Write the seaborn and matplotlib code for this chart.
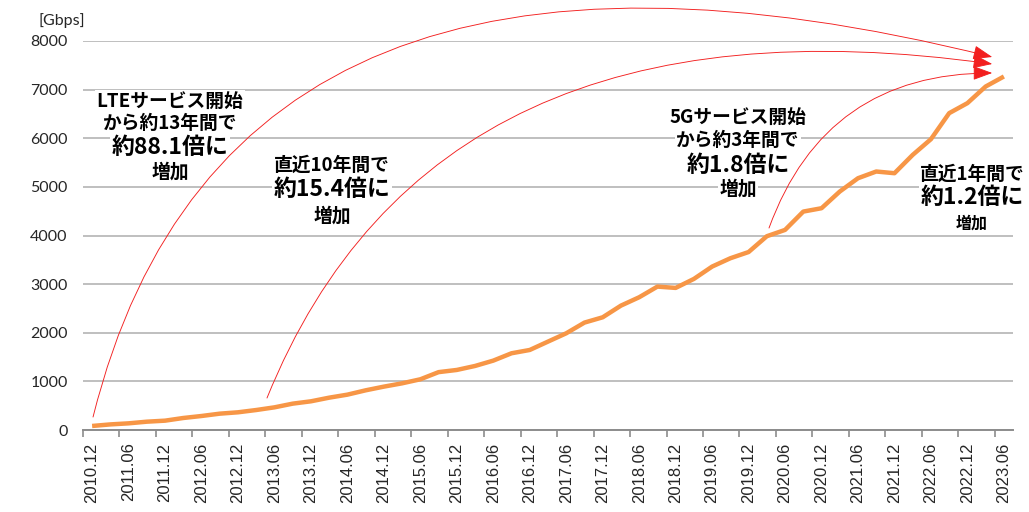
import numpy as np
import pandas as pd
import matplotlib
matplotlib.use('Agg')
import matplotlib.pyplot as plt
import seaborn as sns

# quarterly mobile traffic (Gbps)
quarters = ['2010.12', '2011.03', '2011.06', '2011.09', '2011.12', '2012.03', '2012.06',
            '2012.09', '2012.12', '2013.03', '2013.06', '2013.09', '2013.12', '2014.03',
            '2014.06', '2014.09', '2014.12', '2015.03', '2015.06', '2015.09', '2015.12',
            '2016.03', '2016.06', '2016.09', '2016.12', '2017.03', '2017.06', '2017.09',
            '2017.12', '2018.03', '2018.06', '2018.09', '2018.12', '2019.03', '2019.06',
            '2019.09', '2019.12', '2020.03', '2020.06', '2020.09', '2020.12', '2021.03',
            '2021.06', '2021.09', '2021.12', '2022.03', '2022.06', '2022.09', '2022.12',
            '2023.03', '2023.06']
traffic = [83, 115, 137, 171, 192, 247, 288, 336, 364, 411, 466, 542, 590, 665, 727,
           816, 892, 960, 1043, 1190, 1235, 1317, 1427, 1578, 1646, 1818, 1989, 2209,
           2318, 2558, 2730, 2949, 2922, 3107, 3361, 3532, 3660, 3985, 4115, 4492, 4561,
           4904, 5178, 5316, 5281, 5658, 5981, 6516, 6722, 7064, 7270]
y_ticks = [0, 1000, 2000, 3000, 4000, 5000, 6000, 7000, 8000]

df = pd.DataFrame({'quarter': quarters, 'traffic': traffic})
df['pos'] = np.arange(len(df))

sns.set_style('white')
jp_font = ['Noto Sans CJK JP', 'DejaVu Sans']

W, H = 1029, 512
fig = plt.figure(figsize=(W / 100, H / 100), dpi=100)
ax = fig.add_axes([83 / W, 82 / H, 930 / W, 389 / H])

sns.lineplot(data=df, x='pos', y='traffic', ax=ax, color='#F79646', lw=3.2,
             solid_capstyle='butt', zorder=3)

ax.set_xlim(-0.5, len(df) - 0.5)
ax.set_ylim(0, 8000)
ax.set_xlabel('')
ax.set_ylabel('')

# labels every second quarter, tick marks between categories
label_pos = df['pos'][::2]
ax.set_xticks(label_pos)
ax.set_xticklabels(df['quarter'][::2], rotation=90, family='Liberation Sans',
                   fontsize=12, color='#262626')
ax.set_xticks(np.arange(-0.5, len(df) - 1, 2), minor=True)
ax.tick_params(axis='x', which='major', length=0, pad=9)
ax.tick_params(axis='x', which='minor', length=5, width=1.2, color='#8C8C8C',
               direction='out', bottom=True)

ax.set_yticks(y_ticks)
ax.set_yticklabels([str(v) for v in y_ticks], family='Lato', fontsize=11.5,
                   color='#262626')
ax.tick_params(axis='y', length=0, pad=11)
ax.yaxis.grid(True, color='#BFBFBF', lw=1.4)
ax.set_axisbelow(True)

for s in ['left', 'right', 'top']:
    ax.spines[s].set_visible(False)
ax.spines['bottom'].set_color('#8C8C8C')
ax.spines['bottom'].set_linewidth(1.4)
ax.spines['bottom'].set_zorder(2)

fig.text(62 / W, 1 - 21 / H, '[Gbps]', family='Lato', fontsize=11.5,
         color='#262626', ha='center', va='center')

# text boxes: (center x px, [(text, y px, size)])
notes = [
    (170, [('LTEサービス開始', 101, 13.5), ('から約13年間で', 123, 13.5),
           ('約88.1倍に', 148, 16.5), ('増加', 172, 13.5)]),
    (332, [('直近10年間で', 165, 13.5), ('約15.4倍に', 189, 16.5),
           ('増加', 216, 13.5)]),
    (738, [('5Gサービス開始', 117, 13.5), ('から約3年間で', 140, 13.5),
           ('約1.8倍に', 165, 16.5), ('増加', 189, 13.5)]),
    (972, [('直近1年間で', 174, 13.5), ('約1.2倍に', 198, 16.5),
           ('増加', 224, 11.5)]),
]
for cx, lines in notes:
    for txt, cy, size in lines:
        ax.text(cx / W, 1 - cy / H, txt, transform=fig.transFigure, family=jp_font,
                fontweight='bold', fontsize=size, color='black', ha='center',
                va='center', zorder=3.5, clip_on=False,
                bbox=dict(facecolor='white', edgecolor='none', pad=1))

# curved arrows (start, end, angleA, angleB)
arrows = [((0.05, 267), (49.36, 7671), 76, -14),
          ((9.59, 658), (49.36, 7527), 68, -8),
          ((37.12, 4154), (49.36, 7342), 70, 0)]
for start, end, a, b in arrows:
    ax.annotate('', xy=end, xytext=start, xycoords='data', textcoords='data',
                annotation_clip=False, zorder=4,
                arrowprops=dict(arrowstyle='-|>,head_length=0.6,head_width=0.22',
                                mutation_scale=20, color='#F21F1F', lw=0.65,
                                shrinkA=0, shrinkB=0,
                                connectionstyle=f'angle3,angleA={a},angleB={b}'))

fig.savefig('out.png', dpi=100)
